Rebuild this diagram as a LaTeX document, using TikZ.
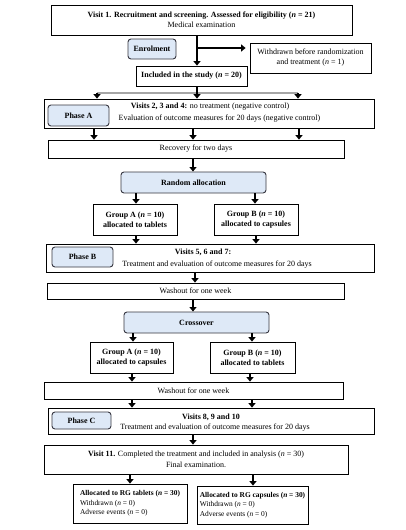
\documentclass[tikz,border=0pt]{standalone}
\usepackage{fontspec}
\setmainfont{Liberation Serif}
\usetikzlibrary{arrows.meta}
\definecolor{lblue}{RGB}{222,233,247}
\definecolor{bord}{RGB}{55,55,65}
\newcommand{\nn}{\textit{n}}
\begin{document}
\begin{tikzpicture}[x=1pt,y=-1pt,
  font=\fontsize{8}{10}\selectfont,
  box/.style={draw=black, line width=0.8pt, inner sep=0pt, align=center},
  bbox/.style={box, font=\fontsize{8}{10}\selectfont\bfseries},
  lab/.style={draw=bord, fill=lblue, rounded corners=3pt, line width=0.9pt, inner sep=0pt, font=\fontsize{8}{10}\selectfont\bfseries},
  sz/.style 2 args={minimum width=#1pt, minimum height=#2pt},
  arr/.style={line width=2.2pt, -{Triangle[length=4.5pt,width=7pt]}},
  txt/.style={inner sep=0pt},
  fbox/.style={box, align=left, font=\fontsize{7.4}{9.5}\selectfont}
]
\useasboundingbox (0,0) rectangle (406,530);
\fill[white] (0,0) rectangle (406,530);

% boxes
\node[box, sz={301}{30}] (v1) at (201.5,20) {\textbf{Visit 1. Recruitment and screening. Assessed for eligibility (\nn{} = 21)}\\Medical examination};
\node[lab, sz={48}{20}] (enr) at (152,49) {Enrolment};
\node[box, sz={121}{30}] (wd) at (310.5,58) {Withdrawn before randomization\\and treatment (\nn{} = 1)};
\node[bbox, sz={111}{20}] (inc) at (191.5,76) {Included in the study (\nn{} = 20)};

\node[box, sz={330}{29}] (pa) at (209,113.5) {};
\node[lab, sz={61}{21}] (pal) at (78.5,115.5) {Phase A};
\node[txt] (pat1) at (210,107) {\textbf{Visits 2, 3 and 4:} no treatment (negative control)};
\node[txt] (pat2) at (219.5,119) {Evaluation of outcome measures for 20 days (negative control)};

\node[box, sz={296}{18}] (rec) at (196,149) {Recovery for two days};
\node[lab, sz={145}{21}] (ra) at (193.5,182.5) {Random allocation};

\node[bbox, sz={84}{31}] (ga) at (135,219.5) {Group A (\nn{} = 10)\\allocated to tablets};
\node[bbox, sz={84}{31}] (gb) at (256,219.5) {Group B (\nn{} = 10)\\allocated to capsules};

\node[box, sz={328}{28}] (pb) at (210,258) {};
\node[lab, sz={61}{20}] (pbl) at (82.5,257) {Phase B};
\node[txt] (pbt1) at (203,252) {\textbf{Visits 5, 6 and 7:}};
\node[txt] (pbt2) at (217,265) {Treatment and evaluation of outcome measures for 20 days};

\node[box, sz={297}{16}] (wo1) at (195.5,291) {Washout for one week};
\node[lab, sz={145}{21}] (co) at (196.5,322.5) {Crossover};

\node[bbox, sz={83}{31}] (ga2) at (131.5,357.5) {Group A (\nn{} = 10)\\allocated to capsules};
\node[bbox, sz={85}{31}] (gb2) at (252.5,357.5) {Group B (\nn{} = 10)\\allocated to tablets};

\node[box, sz={299}{17}] (wo2) at (193.5,390.5) {Washout for one week};

\node[box, sz={326}{26}] (pc) at (211,421) {};
\node[lab, sz={59}{17}] (pcl) at (81.5,420.5) {Phase C};
\node[txt] (pct1) at (211,417) {\textbf{Visits 8, 9 and 10}};
\node[txt] (pct2) at (215,428) {Treatment and evaluation of outcome measures for 20 days};

\node[box, sz={304}{29}, font=\fontsize{8}{11}\selectfont] (v11) at (196,459.5) {\textbf{Visit 11.} Completed the treatment and included in analysis (\nn{} = 30)\\Final examination.};

\node[fbox, sz={114}{39}] (bl) at (130,503.5) {\textbf{Allocated to RG tablets (\nn{} = 30)}\\Withdrawn (\nn{} = 0)\\Adverse events (\nn{} = 0)};
\node[fbox, sz={111}{38}] (br) at (252.5,505) {\textbf{Allocated to RG capsules (\nn{} = 30)}\\Withdrawn (\nn{} = 0)\\Adverse events (\nn{} = 0)};

% connectors
\coordinate (brn) at (197,48);
\draw[arr] (v1.south -| brn) -- (inc.north -| brn);
\draw[arr, shorten >=4pt] (brn) -- (brn -| wd.west);

\coordinate (ll) at (97,93);
\coordinate (lr) at (298,93);
\draw[gray!70, line width=1.5pt] (ll) -- (lr);
\draw[arr] (ll) -- (pa.north -| ll);
\draw[arr] (inc.south -| brn) -- (pa.north -| brn);
\draw[arr] (lr) -- (pa.north -| lr);

\draw[arr] (pa.south -| 94,0) -- (rec.north -| 94,0);
\draw[arr] (pa.south -| 193,0) -- (rec.north -| 193,0);
\draw[arr] (pa.south -| 299,0) -- (rec.north -| 299,0);

\draw[arr] (rec.south -| 193,0) -- (ra.north -| 193,0);
\draw[arr] (ra.south -| 136,0) -- (ga.north -| 136,0);
\draw[arr] (ra.south -| 255,0) -- (gb.north -| 255,0);
\draw[arr] (ga.south -| 136,0) -- (pb.north -| 136,0);
\draw[arr] (gb.south -| 256,0) -- (pb.north -| 256,0);

\draw[arr] (pb.south -| 195,0) -- (wo1.north -| 195,0);
\draw[arr] (wo1.south -| 193,0) -- (co.north -| 193,0);
\draw[arr] (co.south -| 133,0) -- (ga2.north -| 133,0);
\draw[arr] (co.south -| 252,0) -- (gb2.north -| 252,0);
\draw[arr] (ga2.south -| 132,0) -- (wo2.north -| 132,0);
\draw[arr] (gb2.south -| 250,0) -- (wo2.north -| 250,0);

\draw[arr] (wo2.south -| 132,0) -- (pc.north -| 132,0);
\draw[arr] (wo2.south -| 252,0) -- (pc.north -| 252,0);
\draw[arr] (pc.south -| 193,0) -- (v11.north -| 193,0);
\draw[arr] (v11.south -| 130,0) -- (bl.north -| 130,0);
\draw[arr] (v11.south -| 253,0) -- (br.north -| 253,0);
\end{tikzpicture}
\end{document}
